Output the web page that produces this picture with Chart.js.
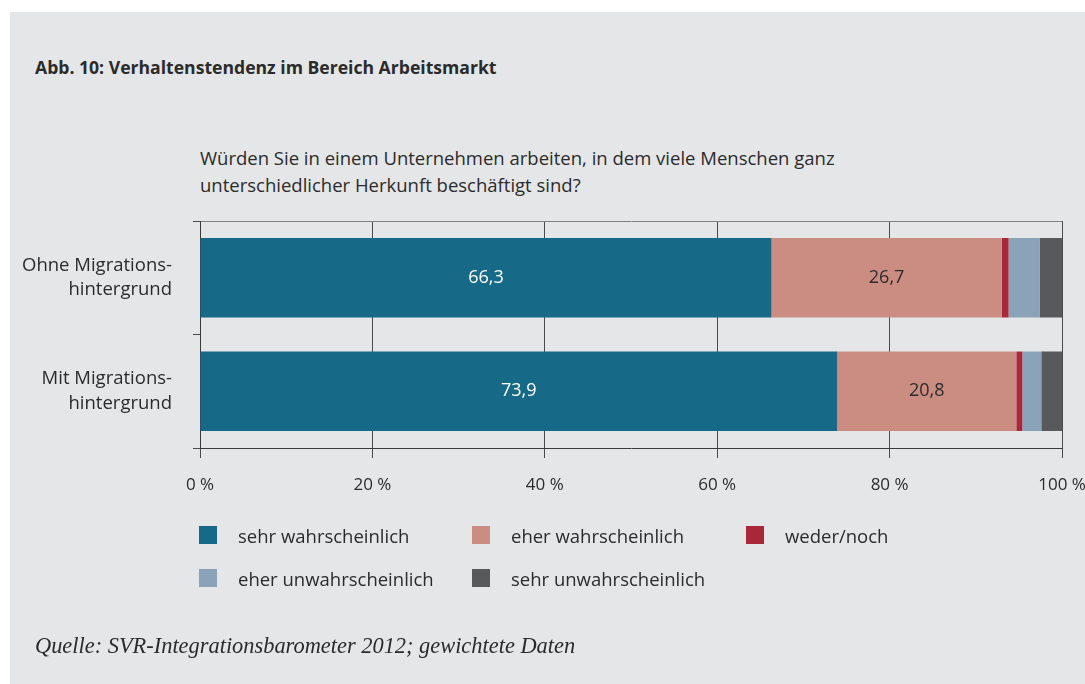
<!DOCTYPE html>
<html lang="de">
<head>
<meta charset="utf-8">
<title>Abb. 10: Verhaltenstendenz im Bereich Arbeitsmarkt</title>
<script src="https://cdn.jsdelivr.net/npm/chart.js@4/dist/chart.umd.min.js"></script>
<style>
    body { margin: 0; width: 1085px; height: 684px; background: #fff; position: relative; overflow: hidden; font-family: 'Open Sans', sans-serif; color: #2b2b2b; }
    #panel { position: absolute; left: 10px; top: 12px; width: 1075px; height: 672px; background: #e5e6e8; }
    #chart { position: absolute; left: 0; top: 0; }
    .txt { position: absolute; white-space: nowrap; }
    #title { left: 35px; top: 55px; font-size: 17.6px; font-weight: bold; }
    #question { left: 200px; top: 144px; font-size: 18.5px; line-height: 27px; }
    #source { left: 35px; top: 633px; font-family: 'Liberation Serif', serif; font-style: italic; font-size: 22.4px; }
    #legend { position: absolute; left: 199px; top: 522px; display: grid; grid-template-columns: 273px 274px 200px; row-gap: 17px; font-size: 18.5px; }
    .item { display: flex; align-items: center; height: 26px; }
    .box { width: 18px; height: 18px; margin-right: 21px; }
</style>
</head>
<body>
<div id="panel"></div>
<div class="txt" id="title">Abb. 10: Verhaltenstendenz im Bereich Arbeitsmarkt</div>
<div class="txt" id="question">Würden Sie in einem Unternehmen arbeiten, in dem viele Menschen ganz<br>unterschiedlicher Herkunft beschäftigt sind?</div>
<canvas id="chart" width="1085" height="684"></canvas>
<div id="legend"></div>
<div class="txt" id="source">Quelle: SVR-Integrationsbarometer 2012; gewichtete Daten</div>
<script>
const categories = [['Ohne Migrations-', 'hintergrund'], ['Mit Migrations-', 'hintergrund']];
const seriesNames = ['sehr wahrscheinlich', 'eher wahrscheinlich', 'weder/noch', 'eher unwahrscheinlich', 'sehr unwahrscheinlich'];
const sehrWahrscheinlich = [66.3, 73.9];
const eherWahrscheinlich = [26.7, 20.8];
const wederNoch = [0.8, 0.7];
const eherUnwahrscheinlich = [3.6, 2.2];
const sehrUnwahrscheinlich = [2.6, 2.4];
const xTicks = [0, 20, 40, 60, 80, 100];

const colors = ['#176a87', '#cb8d82', '#a8283a', '#8aa3b8', '#58595b'];
const labelColors = ['#ffffff', '#2b2b2b', null, null, null];
const values = [sehrWahrscheinlich, eherWahrscheinlich, wederNoch, eherUnwahrscheinlich, sehrUnwahrscheinlich];

// legend in two rows, like the print layout
const legend = document.getElementById('legend');
seriesNames.forEach((name, i) => {
    const item = document.createElement('div');
    item.className = 'item';
    if (i === 3) item.style.gridColumn = '1';
    const box = document.createElement('span');
    box.className = 'box';
    box.style.background = colors[i];
    item.appendChild(box);
    item.appendChild(document.createTextNode(name));
    legend.appendChild(item);
});

// values written into the two big segments
const valueLabels = {
    id: 'valueLabels',
    afterDatasetsDraw(chart) {
        const ctx = chart.ctx;
        ctx.save();
        ctx.font = '18px "Open Sans"';
        ctx.textAlign = 'center';
        ctx.textBaseline = 'middle';
        chart.data.datasets.forEach((ds, di) => {
            if (!labelColors[di]) return;
            chart.getDatasetMeta(di).data.forEach((bar, j) => {
                const p = bar.getProps(['x', 'y', 'base'], true);
                ctx.fillStyle = labelColors[di];
                ctx.fillText(ds.data[j].toFixed(1).replace('.', ','), (p.x + p.base) / 2, p.y);
            });
        });
        ctx.restore();
    }
};

new Chart(document.getElementById('chart'), {
    type: 'bar',
    data: {
        labels: categories,
        datasets: values.map((v, i) => ({
            label: seriesNames[i],
            data: v,
            backgroundColor: colors[i],
            borderWidth: 0,
            barPercentage: 0.7,
            categoryPercentage: 1
        }))
    },
    options: {
        indexAxis: 'y',
        responsive: false,
        animation: false,
        layout: { padding: { top: 221, right: 23, left: 0, bottom: 0 } },
        plugins: { legend: { display: false }, tooltip: { enabled: false } },
        scales: {
            x: {
                stacked: true,
                min: 0,
                max: 100,
                afterFit: s => { s.height = 236; s.paddingLeft = 0; s.paddingRight = 0; },
                afterBuildTicks: s => { s.ticks = xTicks.map(v => ({ value: v })); },
                ticks: {
                    callback: v => v + ' %',
                    color: '#2b2b2b',
                    font: { family: 'Open Sans', size: 17 },
                    padding: 17,
                    maxRotation: 0
                },
                grid: { color: '#4a4a4a', tickColor: '#4a4a4a', tickLength: 10 },
                border: { display: true, color: '#3a3a3a' }
            },
            y: {
                stacked: true,
                afterFit: s => { s.width = 200; },
                ticks: {
                    color: '#2b2b2b',
                    font: { family: 'Open Sans', size: 18.5, lineHeight: 1.3 },
                    padding: 21
                },
                grid: {
                    drawOnChartArea: true,
                    color: c => c.index === 0 ? '#808080' : 'rgba(0,0,0,0)',
                    tickColor: '#4a4a4a',
                    tickLength: 7
                },
                border: { display: true, color: '#3a3a3a' }
            }
        }
    },
    plugins: [valueLabels]
});
</script>
</body>
</html>
